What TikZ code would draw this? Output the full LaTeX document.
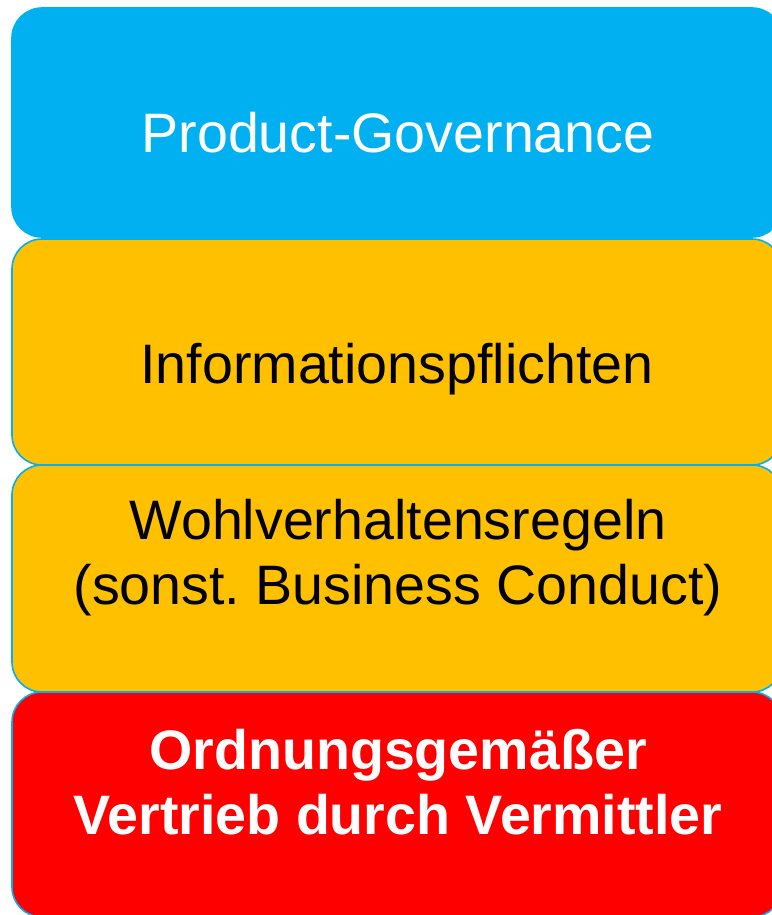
\documentclass[tikz,border=0pt]{standalone}
\usepackage{fontspec}
\setmainfont{Liberation Sans}
\usetikzlibrary{positioning}
\frenchspacing

\definecolor{govblue}{HTML}{00B0F0}
\definecolor{duteorange}{HTML}{FFC000}
\definecolor{salesred}{HTML}{FF0000}

\begin{document}
\begin{tikzpicture}[
    x=0.5pt, y=-0.5pt,
    % Styles
    layer/.style={rounded corners=15pt, draw=govblue, line width=0.8pt},
    layer_text/.style={align=center, font=\fontsize{27.8}{32.5}\selectfont, inner sep=0pt, anchor=base}
]
    \useasboundingbox (0,0) rectangle (771,915);

    % --- LAYERS (top to bottom) ---
    \draw[layer, fill=govblue] (12,8) rectangle (782,237);
    \draw[layer, fill=duteorange] (12,239) rectangle (782,465);
    \draw[layer, fill=duteorange] (12,465) rectangle (782,692);
    \draw[layer, fill=salesred] (12,692) rectangle (782,917);

    % --- TEXTS ---
    % base anchor of a two-line node sits on its last line
    \node[layer_text, text=white] (gov) at (398,153) {Product-Governance};
    \node[layer_text] (info) at (397,383) {Informationspflichten};
    \node[layer_text] (conduct) at (398,604) {Wohlverhaltensregeln\\(sonst. Business Conduct)};
    \node[layer_text, text=white, font=\fontsize{27.8}{32.5}\selectfont\bfseries] (sales) at (398,834) {Ordnungsgemäßer\\Vertrieb durch Vermittler};

\end{tikzpicture}
\end{document}
